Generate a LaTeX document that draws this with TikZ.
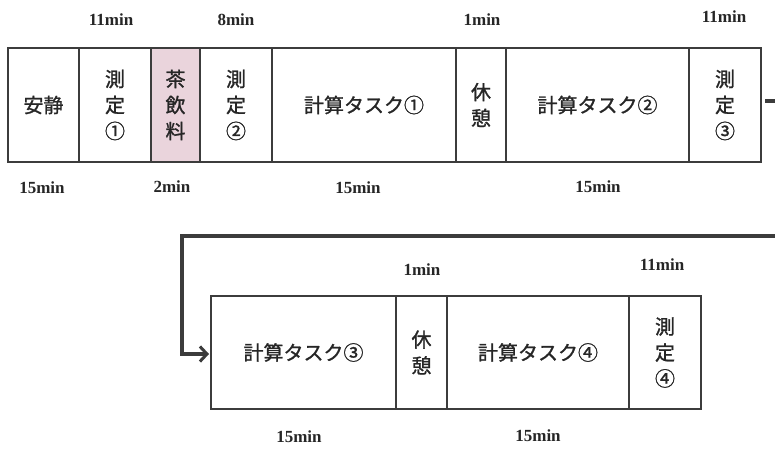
\documentclass[tikz,border=0pt]{standalone}
\usepackage{fontspec}
\setmainfont{Liberation Serif}
\newfontfamily\jp[AutoFakeBold=1.2]{Noto Sans CJK JP}
\usetikzlibrary{arrows.meta}
\definecolor{linec}{HTML}{3C3C3C}
\definecolor{teapink}{HTML}{EAD4DC}
\begin{document}
\begin{tikzpicture}[x=1pt,y=-1pt,
  box/.style={draw=linec, line width=1.2pt, anchor=north west, inner sep=0pt, outer sep=0pt,
    font=\jp\bfseries\fontsize{20}{26}\selectfont, align=center, text=black!85},
  minlbl/.style={font=\bfseries\fontsize{17}{19}\selectfont, text=black!85, inner sep=0pt},
  flow/.style={draw=linec, line width=3.2pt}
]
\useasboundingbox (0,0) rectangle (775,448);
% top row
\node[box, minimum width=71, minimum height=114] (rest) at (8,48) {安静};
\node[box, minimum width=72, minimum height=114] (m1) at (79,48) {測\\定\\①};
\node[box, minimum width=49, minimum height=114, fill=teapink] (tea) at (151,48) {茶\\飲\\料};
\node[box, minimum width=72, minimum height=114] (m2) at (200,48) {測\\定\\②};
\node[box, minimum width=184, minimum height=114] (c1) at (272,48) {計算タスク①};
\node[box, minimum width=50, minimum height=114] (b1) at (456,48) {休\\憩};
\node[box, minimum width=183, minimum height=114] (c2) at (506,48) {計算タスク②};
\node[box, minimum width=72, minimum height=114] (m3) at (689,48) {測\\定\\③};
% bottom row
\node[box, minimum width=185, minimum height=113] (c3) at (211,296) {計算タスク③};
\node[box, minimum width=51, minimum height=113] (b2) at (396,296) {休\\憩};
\node[box, minimum width=182, minimum height=113] (c4) at (447,296) {計算タスク④};
\node[box, minimum width=72, minimum height=113] (m4) at (629,296) {測\\定\\④};
% duration labels
\node[minlbl] (l1) at (111,20) {11min};
\node[minlbl] (l2) at (236,20) {8min};
\node[minlbl] (l3) at (482,20) {1min};
\node[minlbl] (l4) at (724,17) {11min};
\node[minlbl] (l5) at (42,188) {15min};
\node[minlbl] (l6) at (172,187) {2min};
\node[minlbl] (l7) at (358,188) {15min};
\node[minlbl] (l8) at (598,187) {15min};
\node[minlbl] (l9) at (422,270) {1min};
\node[minlbl] (l10) at (662,265) {11min};
\node[minlbl] (l11) at (299,437) {15min};
\node[minlbl] (l12) at (538,436) {15min};
% flow connector
\coordinate (s0) at (765,101);
\coordinate (s1) at (775,101);
\coordinate (r0) at (775,236);
\coordinate (r1) at (182,236);
\coordinate (r2) at (182,354);
\draw[flow] (s0) -- (s1);
\draw[flow, line join=miter, -{Straight Barb[length=7pt,width=15pt,line width=3pt]}]
  (r0) -- (r1) -- (r2) -- ([xshift=-2pt]c3.west |- r2);
\end{tikzpicture}
\end{document}
